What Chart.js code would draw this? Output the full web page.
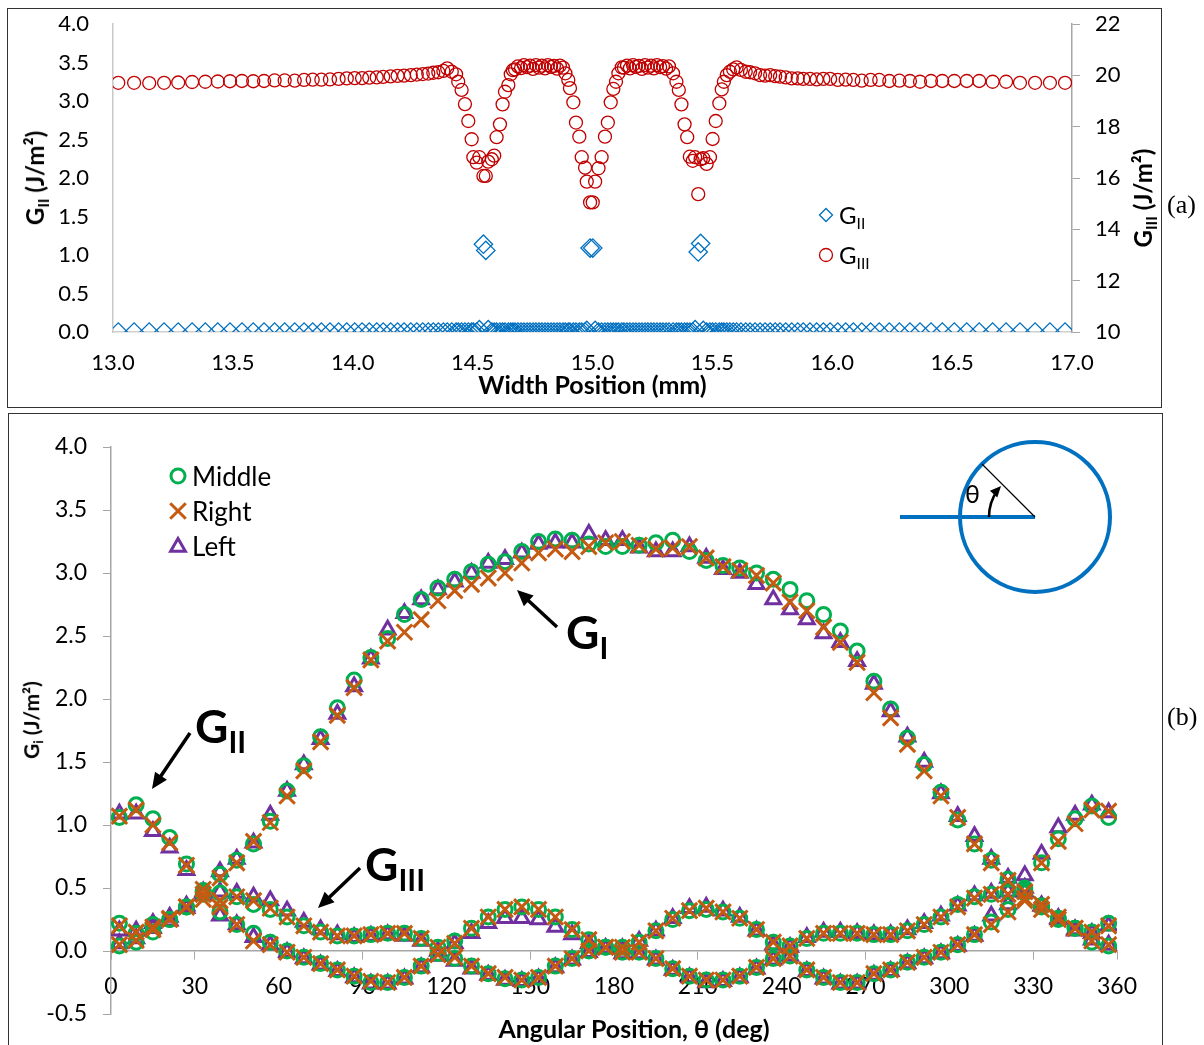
<!DOCTYPE html>
<html>
<head>
<meta charset="utf-8">
<script src="https://cdn.jsdelivr.net/npm/chart.js@4.4.1/dist/chart.umd.min.js"></script>
<style>
  body { margin: 0; background: #fff; }
  #page { position: relative; width: 1204px; height: 1045px; overflow: hidden; font-family: Lato, "Open Sans", sans-serif; }
  canvas { position: absolute; left: 0; }
  .frame { position: absolute; border: 1.5px solid #333; box-sizing: border-box; }
  .lbl { position: absolute; white-space: nowrap; color: #000; line-height: 1; transform: translateY(-50%); }
  .rot { transform: translate(-50%, -50%) rotate(-90deg); }
  .lbl sub { font-size: 0.65em; vertical-align: baseline; position: relative; top: 0.32em; }
  .serif { font-family: "Liberation Serif", "DejaVu Serif", serif; }
  .b { font-weight: bold; }
</style>
</head>
<body>
<div id="page">
  <div class="frame" style="left:7px;top:8px;width:1155px;height:400px;"></div>
  <div class="frame" style="left:8px;top:413px;width:1155px;height:650px;"></div>
  <canvas id="topChart" width="1204" height="410" style="top:0;"></canvas>
  <canvas id="botChart" width="1204" height="635" style="top:410px;"></canvas>

  <!-- panel (a) texts -->
  <div class="lbl rot b" style="left:35px;top:178px;font-size:24px;">G<sub>II</sub> (J/m²)</div>
  <div class="lbl rot b" style="left:1143px;top:198px;font-size:24px;">G<sub>III</sub> (J/m²)</div>
  <div class="lbl" style="left:839px;top:215px;font-size:24px;">G<sub>II</sub></div>
  <div class="lbl" style="left:839px;top:255px;font-size:24px;">G<sub>III</sub></div>
  <div class="lbl serif" style="left:1167px;top:205px;font-size:26px;">(a)</div>

  <!-- panel (b) texts -->
  <div class="lbl rot b" style="left:31px;top:720px;font-size:21px;">G<sub>i</sub> (J/m²)</div>
  <div class="lbl b" style="left:634px;top:1028px;font-size:25px;transform:translate(-50%,-50%);">Angular Position, θ (deg)</div>
  <div class="lbl" style="left:192px;top:476px;font-size:26px;">Middle</div>
  <div class="lbl" style="left:192px;top:511px;font-size:26px;">Right</div>
  <div class="lbl" style="left:192px;top:546px;font-size:26px;">Left</div>
  <div class="lbl b" style="left:566px;top:632px;font-size:46px;">G<sub>I</sub></div>
  <div class="lbl b" style="left:195px;top:726px;font-size:46px;">G<sub>II</sub></div>
  <div class="lbl b" style="left:365px;top:864px;font-size:46px;">G<sub>III</sub></div>
  <div class="lbl" style="left:965px;top:493px;font-size:25px;">θ</div>
  <div class="lbl serif" style="left:1167px;top:717px;font-size:26px;">(b)</div>
</div>

<script>
// ---------- panel (a): energy release rate along the width ----------
const widthPos = [
  13.022, 13.088, 13.151, 13.213, 13.272, 13.330, 13.385, 13.437, 13.488, 13.538,
  13.585, 13.630, 13.674, 13.716, 13.758, 13.797, 13.833, 13.869, 13.905, 13.941,
  13.975, 14.008, 14.039, 14.069, 14.100, 14.127, 14.158, 14.187, 14.214, 14.242,
  14.267, 14.292, 14.315, 14.336, 14.357, 14.378, 14.394, 14.413, 14.431, 14.440,
  14.454, 14.468, 14.482, 14.496, 14.503, 14.517, 14.528, 14.545, 14.555, 14.565,
  14.580, 14.590, 14.600, 14.614, 14.625, 14.635, 14.649, 14.659, 14.668, 14.677,
  14.689, 14.702, 14.714, 14.727, 14.739, 14.752, 14.764, 14.777, 14.789, 14.802,
  14.814, 14.827, 14.839, 14.852, 14.864, 14.877, 14.887, 14.899, 14.906, 14.920,
  14.931, 14.945, 14.955, 14.969, 14.976, 14.990, 15.001, 15.011, 15.025, 15.038,
  15.052, 15.064, 15.076, 15.087, 15.098, 15.108, 15.122, 15.131, 15.144, 15.156,
  15.169, 15.181, 15.194, 15.206, 15.219, 15.231, 15.244, 15.256, 15.269, 15.282,
  15.294, 15.307, 15.319, 15.336, 15.350, 15.360, 15.371, 15.384, 15.395, 15.406,
  15.418, 15.428, 15.441, 15.451, 15.462, 15.476, 15.490, 15.501, 15.514, 15.529,
  15.539, 15.548, 15.560, 15.573, 15.587, 15.601, 15.619, 15.639, 15.657, 15.678,
  15.699, 15.720, 15.741, 15.762, 15.782, 15.806, 15.831, 15.856, 15.879, 15.907,
  15.935, 15.963, 15.991, 16.023, 16.056, 16.088, 16.123, 16.160, 16.196, 16.238,
  16.280, 16.324, 16.366, 16.412, 16.459, 16.509, 16.561, 16.613, 16.669, 16.725,
  16.783, 16.846, 16.908, 16.971
];

const gIIWidth = [
  0, 0, 0, 0, 0, 0, 0, 0, 0, 0,
  0, 0, 0, 0, 0, 0, 0, 0, 0, 0,
  0, 0, 0, 0, 0, 0, 0, 0, 0, 0,
  0, 0, 0, 0, 0, 0, 0, 0, 0, 0,
  0, 0, 0, 0, 0, 0, 0.03, 1.14, 1.06, 0.03,
  0, 0, 0, 0, 0, 0, 0, 0, 0, 0,
  0, 0, 0, 0, 0, 0, 0, 0, 0, 0,
  0, 0, 0, 0, 0, 0, 0, 0, 0, 0,
  0, 0, 0, 0, 0.02, 1.09, 1.09, 0.02, 0, 0,
  0, 0, 0, 0, 0, 0, 0, 0, 0, 0,
  0, 0, 0, 0, 0, 0, 0, 0, 0, 0,
  0, 0, 0, 0, 0, 0, 0, 0, 0, 0,
  0, 0.03, 1.04, 1.15, 0.02, 0, 0, 0, 0, 0,
  0, 0, 0, 0, 0, 0, 0, 0, 0, 0,
  0, 0, 0, 0, 0, 0, 0, 0, 0, 0,
  0, 0, 0, 0, 0, 0, 0, 0, 0, 0,
  0, 0, 0, 0, 0, 0, 0, 0, 0, 0,
  0, 0, 0, 0
];

const gIIIWidth = [
  19.71, 19.71, 19.70, 19.71, 19.72, 19.74, 19.75, 19.76, 19.77, 19.78,
  19.77, 19.78, 19.80, 19.80, 19.79, 19.82, 19.83, 19.83, 19.84, 19.86,
  19.88, 19.89, 19.89, 19.91, 19.92, 19.94, 19.96, 19.98, 19.99, 20.01,
  20.03, 20.05, 20.07, 20.10, 20.12, 20.17, 20.27, 20.14, 20.04, 19.75,
  19.43, 18.88, 18.22, 17.51, 16.81, 16.60, 16.81, 16.08, 16.08, 16.64,
  16.73, 16.87, 17.59, 18.09, 18.87, 19.36, 19.62, 20.04, 20.20, 20.23,
  20.35, 20.28, 20.40, 20.32, 20.38, 20.25, 20.40, 20.30, 20.38, 20.27,
  20.40, 20.33, 20.37, 20.26, 20.38, 20.30, 20.08, 19.82, 19.50, 18.95,
  18.16, 17.61, 16.81, 16.40, 15.86, 15.05, 15.05, 15.86, 16.38, 16.81,
  17.61, 18.16, 18.95, 19.47, 19.75, 20.08, 20.31, 20.30, 20.38, 20.27,
  20.40, 20.33, 20.37, 20.25, 20.40, 20.30, 20.38, 20.27, 20.40, 20.32,
  20.36, 20.26, 20.35, 20.08, 19.75, 19.43, 18.87, 18.09, 17.59, 16.83,
  16.67, 16.81, 15.37, 16.73, 16.77, 16.55, 16.81, 17.52, 18.22, 18.91,
  19.45, 19.75, 20.01, 20.14, 20.23, 20.31, 20.21, 20.14, 20.12, 20.08,
  20.01, 19.99, 20.01, 19.97, 19.95, 19.92, 19.88, 19.88, 19.86, 19.86,
  19.84, 19.86, 19.86, 19.82, 19.83, 19.82, 19.79, 19.82, 19.82, 19.78,
  19.79, 19.78, 19.75, 19.78, 19.78, 19.78, 19.78, 19.78, 19.75, 19.75,
  19.71, 19.71, 19.71, 19.71
];

// ---------- panel (b): G around the circular front ----------
const angles = [
  3, 9, 15, 21, 27, 33, 39, 45, 51, 57, 63, 69, 75, 81, 87, 93, 99, 105, 111, 117,
  123, 129, 135, 141, 147, 153, 159, 165, 171, 177, 183, 189, 195, 201, 207, 213, 219, 225, 231, 237,
  243, 249, 255, 261, 267, 273, 279, 285, 291, 297, 303, 309, 315, 321, 327, 333, 339, 345, 351, 357
];

const midGI = [
  0.04, 0.07, 0.15, 0.25, 0.35, 0.47, 0.61, 0.72, 0.85, 1.03, 1.27, 1.47, 1.70, 1.93, 2.15, 2.33, 2.48, 2.67, 2.79, 2.88,
  2.95, 3.01, 3.07, 3.09, 3.17, 3.25, 3.27, 3.26, 3.23, 3.21, 3.21, 3.22, 3.24, 3.26, 3.17, 3.10, 3.06, 3.04, 3.00, 2.95,
  2.87, 2.78, 2.67, 2.54, 2.38, 2.14, 1.92, 1.69, 1.48, 1.26, 1.04, 0.85, 0.72, 0.57, 0.46, 0.36, 0.26, 0.18, 0.07, 0.04
];
const midGII = [
  1.06, 1.16, 1.05, 0.90, 0.69, 0.48, 0.31, 0.21, 0.14, 0.07, 0.00, -0.05, -0.10, -0.15, -0.20, -0.25, -0.25, -0.21, -0.12, -0.02,
  0.08, 0.18, 0.27, 0.33, 0.35, 0.33, 0.27, 0.17, 0.09, 0.03, 0.03, 0.07, 0.16, 0.25, 0.32, 0.33, 0.31, 0.26, 0.17, 0.07,
  -0.04, -0.15, -0.21, -0.25, -0.25, -0.18, -0.15, -0.09, -0.05, -0.01, 0.05, 0.13, 0.23, 0.33, 0.48, 0.70, 0.89, 1.05, 1.15, 1.06
];
const midGIII = [
  0.22, 0.14, 0.21, 0.25, 0.35, 0.45, 0.46, 0.43, 0.37, 0.33, 0.27, 0.20, 0.15, 0.12, 0.12, 0.13, 0.14, 0.14, 0.10, 0.03,
  -0.06, -0.12, -0.18, -0.22, -0.23, -0.21, -0.12, -0.06, 0.00, 0.03, -0.01, -0.01, -0.06, -0.14, -0.20, -0.23, -0.23, -0.20, -0.13, -0.06,
  0.04, 0.10, 0.14, 0.14, 0.14, 0.13, 0.13, 0.16, 0.21, 0.27, 0.37, 0.43, 0.45, 0.47, 0.50, 0.35, 0.25, 0.18, 0.15, 0.22
];

const rightGI = [
  0.05, 0.085, 0.17, 0.25, 0.35, 0.45, 0.58, 0.70, 0.87, 1.02, 1.23, 1.43, 1.66, 1.87, 2.09, 2.31, 2.46, 2.53, 2.63, 2.78,
  2.86, 2.91, 2.96, 3.00, 3.08, 3.16, 3.19, 3.17, 3.21, 3.24, 3.25, 3.22, 3.19, 3.20, 3.21, 3.12, 3.05, 3.02, 2.98, 2.92,
  2.77, 2.70, 2.57, 2.45, 2.29, 2.05, 1.85, 1.64, 1.43, 1.23, 1.06, 0.85, 0.70, 0.56, 0.47, 0.37, 0.27, 0.18, 0.08, 0.05
];
const rightGII = [
  1.07, 1.12, 1.00, 0.86, 0.68, 0.49, 0.35, 0.21, 0.08, 0.05, -0.01, -0.05, -0.10, -0.15, -0.20, -0.24, -0.25, -0.21, -0.12, -0.03,
  0.06, 0.18, 0.27, 0.33, 0.35, 0.33, 0.27, 0.17, 0.09, 0.03, 0.03, 0.07, 0.16, 0.26, 0.32, 0.34, 0.31, 0.26, 0.17, 0.07,
  -0.04, -0.15, -0.21, -0.25, -0.25, -0.18, -0.15, -0.09, -0.05, -0.01, 0.05, 0.13, 0.21, 0.31, 0.42, 0.70, 0.87, 1.01, 1.12, 1.11
];
const rightGIII = [
  0.20, 0.15, 0.19, 0.26, 0.35, 0.41, 0.40, 0.43, 0.40, 0.34, 0.27, 0.20, 0.15, 0.12, 0.12, 0.13, 0.14, 0.14, 0.10, 0.03,
  -0.05, -0.12, -0.18, -0.21, -0.23, -0.21, -0.12, -0.06, 0.00, 0.03, -0.01, -0.01, -0.06, -0.14, -0.20, -0.23, -0.23, -0.20, -0.13, -0.06,
  0.04, 0.10, 0.14, 0.14, 0.14, 0.13, 0.13, 0.16, 0.21, 0.27, 0.35, 0.42, 0.45, 0.45, 0.40, 0.33, 0.25, 0.18, 0.15, 0.20
];

const leftGI = [
  0.06, 0.10, 0.18, 0.24, 0.34, 0.46, 0.63, 0.73, 0.86, 1.08, 1.27, 1.48, 1.68, 1.88, 2.10, 2.32, 2.55, 2.68, 2.79, 2.87,
  2.93, 3.00, 3.08, 3.11, 3.16, 3.23, 3.24, 3.24, 3.31, 3.26, 3.26, 3.20, 3.17, 3.17, 3.21, 3.12, 3.03, 3.00, 2.91, 2.79,
  2.71, 2.63, 2.52, 2.45, 2.30, 2.12, 1.90, 1.70, 1.50, 1.25, 1.07, 0.91, 0.73, 0.58, 0.47, 0.36, 0.26, 0.17, 0.09, 0.05
];
const leftGII = [
  1.09, 1.09, 0.95, 0.82, 0.64, 0.47, 0.28, 0.21, 0.11, 0.05, -0.01, -0.06, -0.11, -0.16, -0.21, -0.26, -0.26, -0.22, -0.13, -0.04,
  0.06, 0.14, 0.22, 0.26, 0.26, 0.25, 0.19, 0.13, 0.06, 0.02, 0.02, 0.08, 0.16, 0.26, 0.34, 0.35, 0.32, 0.27, 0.16, 0.05,
  -0.04, -0.16, -0.22, -0.26, -0.26, -0.19, -0.16, -0.10, -0.06, -0.02, 0.04, 0.12, 0.28, 0.37, 0.60, 0.77, 0.98, 1.08, 1.16, 1.10
];
const leftGIII = [
  0.16, 0.16, 0.22, 0.27, 0.36, 0.44, 0.47, 0.46, 0.43, 0.40, 0.32, 0.23, 0.17, 0.13, 0.11, 0.12, 0.13, 0.12, 0.08, 0.00,
  -0.08, -0.14, -0.19, -0.23, -0.24, -0.22, -0.13, -0.07, -0.01, 0.02, -0.02, -0.02, -0.07, -0.15, -0.21, -0.25, -0.24, -0.21, -0.14, -0.07,
  0.03, 0.11, 0.15, 0.15, 0.14, 0.13, 0.13, 0.17, 0.22, 0.28, 0.36, 0.44, 0.46, 0.47, 0.50, 0.36, 0.25, 0.16, 0.14, 0.20
];

const BLUE = '#0070C0';
const RED = '#C00000';
const GREEN = '#00B050';
const ORANGE = '#C55A11';
const PURPLE = '#7030A0';
const AXIS = '#A6A6A6';

Chart.defaults.font.family = 'Lato, "Open Sans", sans-serif';
Chart.defaults.color = '#000';

// draws one marker the same way the datasets do (used for the in-plot legends)
function marker(ctx, style, x, y, r, color, lw) {
  ctx.save();
  ctx.strokeStyle = color;
  ctx.lineWidth = lw;
  ctx.beginPath();
  if (style === 'circle') {
    ctx.arc(x, y, r, 0, Math.PI * 2);
  } else if (style === 'rectRot') {
    ctx.moveTo(x - r, y); ctx.lineTo(x, y - r); ctx.lineTo(x + r, y); ctx.lineTo(x, y + r); ctx.closePath();
  } else if (style === 'crossRot') {
    const d = r * Math.SQRT1_2;
    ctx.moveTo(x - d, y - d); ctx.lineTo(x + d, y + d);
    ctx.moveTo(x + d, y - d); ctx.lineTo(x - d, y + d);
  } else if (style === 'triangle') {
    ctx.moveTo(x, y - r);
    ctx.lineTo(x + Math.sin(2 * Math.PI / 3) * r, y - Math.cos(2 * Math.PI / 3) * r);
    ctx.lineTo(x + Math.sin(4 * Math.PI / 3) * r, y - Math.cos(4 * Math.PI / 3) * r);
    ctx.closePath();
  }
  ctx.stroke();
  ctx.restore();
}

function arrow(ctx, x1, y1, x2, y2, lw, head) {
  const a = Math.atan2(y2 - y1, x2 - x1);
  ctx.save();
  ctx.strokeStyle = '#000';
  ctx.fillStyle = '#000';
  ctx.lineWidth = lw;
  ctx.beginPath();
  ctx.moveTo(x1, y1);
  ctx.lineTo(x2 - Math.cos(a) * head * 0.8, y2 - Math.sin(a) * head * 0.8);
  ctx.stroke();
  ctx.beginPath();
  ctx.moveTo(x2, y2);
  ctx.lineTo(x2 - head * Math.cos(a) + head * 0.45 * Math.sin(a), y2 - head * Math.sin(a) - head * 0.45 * Math.cos(a));
  ctx.lineTo(x2 - head * Math.cos(a) - head * 0.45 * Math.sin(a), y2 - head * Math.sin(a) + head * 0.45 * Math.cos(a));
  ctx.closePath();
  ctx.fill();
  ctx.restore();
}

// ---------- top chart ----------
new Chart(document.getElementById('topChart'), {
  type: 'scatter',
  data: {
    datasets: [
      {
        label: 'GII',
        data: widthPos.map((x, i) => ({ x: x, y: gIIWidth[i] })),
        yAxisID: 'yL',
        pointStyle: 'rectRot',
        pointRadius: 9.2,
        pointBorderWidth: 1.3,
        pointBorderColor: BLUE,
        pointBackgroundColor: 'rgba(0,0,0,0)'
      },
      {
        label: 'GIII',
        data: widthPos.map((x, i) => ({ x: x, y: gIIIWidth[i] })),
        yAxisID: 'yR',
        pointStyle: 'circle',
        pointRadius: 6.5,
        pointBorderWidth: 1.3,
        pointBorderColor: RED,
        pointBackgroundColor: 'rgba(0,0,0,0)'
      }
    ]
  },
  options: {
    responsive: false,
    animation: false,
    events: [],
    layout: { padding: { left: 43, right: 62, top: 24, bottom: 6 } },
    plugins: { legend: { display: false }, tooltip: { enabled: false } },
    scales: {
      x: {
        type: 'linear', min: 13, max: 17,
        ticks: { stepSize: 0.5, padding: 18, font: { size: 22 }, callback: v => v.toFixed(1) },
        grid: { display: false, drawTicks: false },
        border: { color: '#D0D0D0', width: 1.5 },
        title: { display: true, text: 'Width Position (mm)', font: { size: 25, weight: 'bold' }, padding: { top: 0, bottom: 3 } },
        afterFit: s => { s.height = 72; }
      },
      yL: {
        type: 'linear', position: 'left', min: 0, max: 4,
        ticks: { stepSize: 0.5, padding: 8, font: { size: 22 }, callback: v => v.toFixed(1) },
        // tick marks hidden, tickLength only spaces the labels away from the axis
        grid: { display: false, drawTicks: true, tickLength: 16 },
        border: { color: '#C8C8C8', width: 1.5 },
        afterFit: s => { s.width = 70; }
      },
      yR: {
        type: 'linear', position: 'right', min: 10, max: 22,
        ticks: { stepSize: 2, padding: 15, font: { size: 22, lineHeight: 0.8 } },
        grid: { drawOnChartArea: false, drawTicks: true, tickLength: 8, color: AXIS },
        border: { color: AXIS, width: 1.5 },
        afterFit: s => { s.width = 70; }
      }
    }
  },
  plugins: [{
    id: 'topLegend',
    afterDraw(chart) {
      const ctx = chart.ctx;
      marker(ctx, 'rectRot', 826, 215, 6.5, BLUE, 1.3);
      marker(ctx, 'circle', 826, 255, 6.5, RED, 1.3);
    }
  }]
});

// ---------- bottom chart ----------
function pts(a, b, c) {
  return angles.map((t, i) => ({ x: t, y: a[i] }))
    .concat(angles.map((t, i) => ({ x: t, y: b[i] })))
    .concat(angles.map((t, i) => ({ x: t, y: c[i] })));
}

new Chart(document.getElementById('botChart'), {
  type: 'scatter',
  data: {
    datasets: [
      {
        label: 'Middle', data: pts(midGI, midGII, midGIII), order: 1,
        pointStyle: 'circle', pointRadius: 7, pointBorderWidth: 3,
        pointBorderColor: GREEN, pointBackgroundColor: 'rgba(0,0,0,0)'
      },
      {
        label: 'Right', data: pts(rightGI, rightGII, rightGIII), order: 0,
        pointStyle: 'crossRot', pointRadius: 11, pointBorderWidth: 3,
        pointBorderColor: ORANGE, pointBackgroundColor: 'rgba(0,0,0,0)'
      },
      {
        label: 'Left', data: pts(leftGI, leftGII, leftGIII), order: 2,
        pointStyle: 'triangle', pointRadius: 8.5, pointBorderWidth: 3,
        pointBorderColor: PURPLE, pointBackgroundColor: 'rgba(0,0,0,0)'
      }
    ]
  },
  options: {
    responsive: false,
    animation: false,
    events: [],
    layout: { padding: { left: 31, right: 87, top: 37, bottom: 31 } },
    plugins: { legend: { display: false }, tooltip: { enabled: false } },
    scales: {
      x: {
        type: 'linear', position: { y: 0 }, min: 0, max: 360,
        ticks: { stepSize: 30, padding: 14, font: { size: 23 } },
        grid: { drawOnChartArea: false, drawTicks: true, tickLength: 8, color: AXIS },
        border: { color: AXIS, width: 1.5 }
      },
      y: {
        type: 'linear', position: 'left', min: -0.5, max: 4,
        ticks: { stepSize: 0.5, padding: 16, font: { size: 23 }, callback: v => v.toFixed(1) },
        grid: { drawOnChartArea: false, drawTicks: true, tickLength: 8, color: AXIS },
        border: { color: AXIS, width: 1.5 },
        afterFit: s => { s.width = 80; }
      }
    }
  },
  plugins: [{
    id: 'decor',
    afterDraw(chart) {
      const ctx = chart.ctx;
      // legend markers
      marker(ctx, 'circle', 178, 66, 7, GREEN, 3);
      marker(ctx, 'crossRot', 178, 101, 11, ORANGE, 3);
      marker(ctx, 'triangle', 178, 137, 8.5, PURPLE, 3);

      // pointer arrows for the three modes
      arrow(ctx, 557, 217, 517, 180, 3.5, 16);
      arrow(ctx, 190, 323, 152, 379, 3.5, 16);
      arrow(ctx, 360, 458, 318, 498, 3.5, 16);

      // schematic of the circular front
      const cx = 1035, cy = 107;
      ctx.save();
      ctx.strokeStyle = BLUE;
      ctx.lineWidth = 4;
      ctx.beginPath();
      ctx.arc(cx, cy, 75, 0, Math.PI * 2);
      ctx.stroke();
      ctx.beginPath();
      ctx.moveTo(900, cy);
      ctx.lineTo(cx, cy);
      ctx.stroke();
      ctx.strokeStyle = '#000';
      ctx.lineWidth = 1.2;
      ctx.beginPath();
      ctx.moveTo(cx, cy);
      ctx.lineTo(cx - 75 * Math.cos(Math.PI / 4), cy - 75 * Math.sin(Math.PI / 4));
      ctx.stroke();
      ctx.lineWidth = 2.5;
      ctx.beginPath();
      ctx.arc(cx, cy, 46, Math.PI, Math.PI + 0.62);
      ctx.stroke();
      const ea = Math.PI + 0.74;
      const tx = cx + 46 * Math.cos(ea), ty = cy + 46 * Math.sin(ea);
      const dx = -Math.sin(ea), dy = Math.cos(ea);
      ctx.fillStyle = '#000';
      ctx.beginPath();
      ctx.moveTo(tx, ty);
      ctx.lineTo(tx - 11 * dx + 5 * dy, ty - 11 * dy - 5 * dx);
      ctx.lineTo(tx - 11 * dx - 5 * dy, ty - 11 * dy + 5 * dx);
      ctx.closePath();
      ctx.fill();
      ctx.restore();
    }
  }]
});
</script>
</body>
</html>
